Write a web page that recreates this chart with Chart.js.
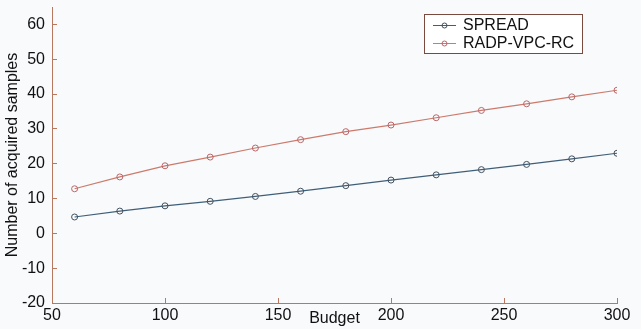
<!DOCTYPE html>
<html><head><meta charset="utf-8">
<script src="https://cdn.jsdelivr.net/npm/chart.js@4"></script>
<style>
html,body{margin:0;padding:0;background:#f9fafc;}
#wrap{width:641px;height:329px;position:relative;}
</style></head>
<body><div id="wrap"><canvas id="c" width="641" height="329"></canvas></div>
<script>
const budgets = [60, 80, 100, 120, 140, 160, 180, 200, 220, 240, 260, 280, 300];
const spread = [4.7, 6.4, 7.9, 9.2, 10.6, 12.1, 13.7, 15.3, 16.8, 18.3, 19.8, 21.4, 23.0];
const radp = [12.8, 16.2, 19.4, 21.9, 24.5, 26.9, 29.2, 31.1, 33.2, 35.3, 37.2, 39.2, 41.1];
const seriesNames = ['SPREAD', 'RADP-VPC-RC'];
const xTicks = [50, 100, 150, 200, 250, 300];
const yTicks = [-20, -10, 0, 10, 20, 30, 40, 50, 60];

const axisColor = '#b8775f';
const FONT = 'Liberation Sans, Arial, sans-serif';

const legendPlugin = {
  id: 'boxLegend',
  afterDraw(chart) {
    const ctx = chart.ctx;
    const x0 = 424, y0 = 14, w = 158, h = 39;
    ctx.save();
    ctx.fillStyle = '#ffffff';
    ctx.fillRect(x0, y0, w, h);
    ctx.strokeStyle = '#7a4a40';
    ctx.lineWidth = 1;
    ctx.strokeRect(x0 + 0.5, y0 + 0.5, w, h);
    ctx.font = '16px ' + FONT;
    ctx.textBaseline = 'middle';
    chart.data.datasets.forEach((ds, i) => {
      const y = y0 + 11 + i * 18;
      ctx.strokeStyle = ds.borderColor;
      ctx.lineWidth = 1;
      ctx.beginPath(); ctx.moveTo(433, y + 0.5); ctx.lineTo(456, y + 0.5); ctx.stroke();
      ctx.strokeStyle = ds.pointBorderColor;
      ctx.beginPath(); ctx.arc(444.5, y + 0.5, 2.5, 0, Math.PI * 2); ctx.stroke();
      ctx.fillStyle = '#111';
      ctx.fillText(ds.label, 463, y + 1);
    });
    ctx.restore();
  }
};

new Chart(document.getElementById('c'), {
  type: 'line',
  data: {
    datasets: [
      {
        label: seriesNames[0],
        data: budgets.map((b, i) => ({x: b, y: spread[i]})),
        borderColor: '#3f5f78', borderWidth: 1.2,
        pointRadius: 3, pointBorderWidth: 1, pointBorderColor: '#44505c',
        pointBackgroundColor: 'rgba(0,0,0,0)', tension: 0
      },
      {
        label: seriesNames[1],
        data: budgets.map((b, i) => ({x: b, y: radp[i]})),
        borderColor: '#cc7a6c', borderWidth: 1.2,
        pointRadius: 3, pointBorderWidth: 1, pointBorderColor: '#b8676a',
        pointBackgroundColor: 'rgba(0,0,0,0)', tension: 0
      }
    ]
  },
  options: {
    responsive: false,
    animation: false,
    layout: {padding: {left: 0, top: 7, right: 24, bottom: 0}},
    plugins: {legend: {display: false}, tooltip: {enabled: false}},
    scales: {
      x: {
        type: 'linear', min: 50, max: 300,
        afterFit(s) { s.height = 26; s.paddingLeft = 0; s.paddingRight = 0; },
        afterBuildTicks(s) { s.ticks = xTicks.map(v => ({value: v})); },
        ticks: {color: '#111', font: {size: 16, family: FONT}, padding: 8, maxRotation: 0},
        grid: {drawOnChartArea: false, tickLength: -5, color: axisColor},
        border: {color: axisColor, width: 1},
        title: {display: true, text: 'Budget', color: '#111', font: {size: 16, family: FONT}, padding: {top: 0, bottom: 1}}
      },
      y: {
        type: 'linear', min: -20, max: 65,
        afterFit(s) { s.width = 52; s.paddingTop = 0; s.paddingBottom = 0; },
        afterBuildTicks(s) { s.ticks = yTicks.map(v => ({value: v})); },
        ticks: {color: '#111', font: {size: 16, family: FONT}, padding: 12},
        grid: {drawOnChartArea: false, tickLength: -5, color: axisColor},
        border: {color: axisColor, width: 1},
        title: {display: true, text: 'Number of acquired samples', color: '#111', font: {size: 16, family: FONT}, padding: {top: 3, bottom: 0}}
      }
    }
  },
  plugins: [legendPlugin]
});
</script></body></html>
